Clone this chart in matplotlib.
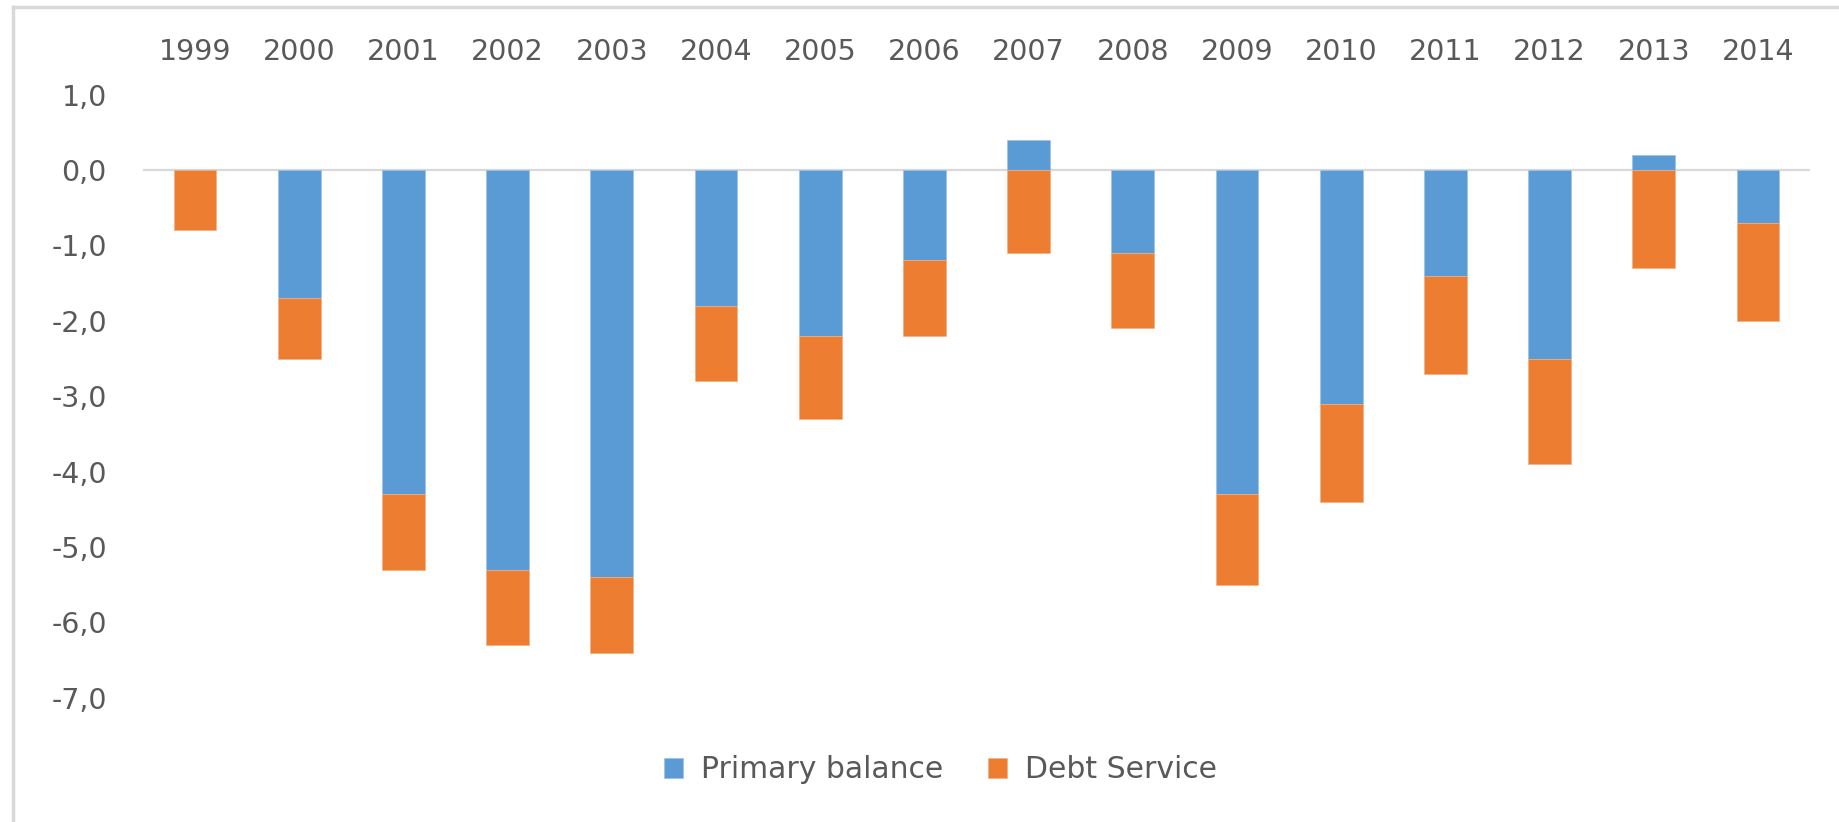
import matplotlib.pyplot as plt
from matplotlib.lines import Line2D
from matplotlib.ticker import FuncFormatter

years = ['1999', '2000', '2001', '2002', '2003', '2004', '2005', '2006',
         '2007', '2008', '2009', '2010', '2011', '2012', '2013', '2014']
primary_balance = [0.0, -1.7, -4.3, -5.3, -5.4, -1.8, -2.2, -1.2,
                   0.4, -1.1, -4.3, -3.1, -1.4, -2.5, 0.2, -0.7]
debt_service = [-0.8, -0.8, -1.0, -1.0, -1.0, -1.0, -1.1, -1.0,
                -1.1, -1.0, -1.2, -1.3, -1.3, -1.4, -1.3, -1.3]

blue = '#5B9BD5'
orange = '#ED7D31'
grey_text = '#595959'

plt.rcParams['font.family'] = ['DejaVu Sans']

fig = plt.figure(figsize=(18.4, 8.22), dpi=100)
ax = fig.add_axes([0.0777, 0.1511, 0.9060, 0.7338])

x = list(range(len(years)))
# negative values stack downward from the bottom of the negative part of the first series
bottoms = [min(p, 0) for p in primary_balance]

ax.bar(x, primary_balance, width=0.41, color=blue, edgecolor='#9DC3E6',
       linewidth=0.5, label='Primary balance', zorder=2)
ax.bar(x, debt_service, width=0.41, bottom=bottoms, color=orange,
       edgecolor='#F4B183', linewidth=0.5, label='Debt Service', zorder=2)

ax.axhline(0, color='#D9D9D9', linewidth=1.6, zorder=1)

ax.set_xlim(-0.5, len(years) - 0.5)
ax.set_ylim(-7, 1)
ax.set_yticks(range(-7, 2))
ax.yaxis.set_major_formatter(FuncFormatter(lambda v, p: f'{v:.1f}'.replace('.', ',')))

ax.set_xticks(x)
ax.set_xticklabels(years)
ax.xaxis.tick_top()
ax.tick_params(axis='x', length=0, pad=20.5, labelsize=20.5, labelcolor=grey_text)
ax.tick_params(axis='y', length=0, pad=26, labelsize=20.5, labelcolor=grey_text)

for s in ax.spines.values():
    s.set_visible(False)

leg = ax.legend(loc='center', bbox_to_anchor=(0.511, 0.0633),
                bbox_transform=fig.transFigure, ncol=2, frameon=False,
                fontsize=21.5, handlelength=0.64, handleheight=0.64,
                handletextpad=0.6, columnspacing=1.5)
for t in leg.get_texts():
    t.set_color(grey_text)

# chart frame
fig.add_artist(Line2D([0.0073, 0.0073], [0, 0.9915], color='#D9D9D9',
                      linewidth=2.5, transform=fig.transFigure))
fig.add_artist(Line2D([0.0073, 1.0], [0.9915, 0.9915], color='#D9D9D9',
                      linewidth=2.5, transform=fig.transFigure))

fig.savefig('out.png', dpi=100)
